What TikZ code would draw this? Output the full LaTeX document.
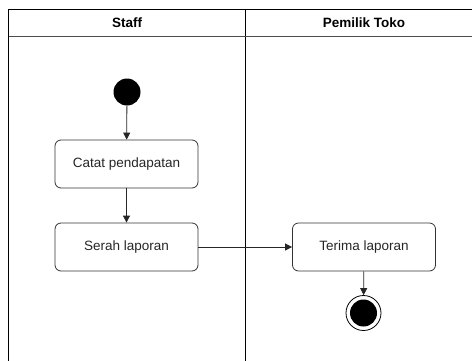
\documentclass[tikz,border=0pt]{standalone}
\usepackage{fontspec}
\setmainfont{Liberation Sans}
\usetikzlibrary{arrows.meta}
\begin{document}
\begin{tikzpicture}[x=1pt,y=-1pt,
  action/.style={draw=black!80,line width=0.8pt,rounded corners=6pt,minimum width=143pt,minimum height=48pt,inner sep=0pt,font=\fontsize{13.5}{16}\selectfont,text=black!85},
  lanetitle/.style={font=\bfseries\fontsize{13.5}{16}\selectfont},
  flow/.style={draw=black!85,line width=0.8pt,-{Triangle[length=7pt,width=7pt]}},
  lane/.style={draw=black,line width=1pt}]
\useasboundingbox (0,0) rectangle (472,360);
\begin{scope}
\clip (0,0) rectangle (472,360);
\draw[lane] (8.5,370) -- (8.5,9) -- (490,9);
\draw[lane] (245,9) -- (245,370);
\draw[draw=black!70,line width=1pt] (8.5,36) -- (490,36);
\end{scope}
\node[lanetitle] (t1) at (127,22.5) {Staff};
\node[lanetitle] (t2) at (364,22.5) {Pemilik Toko};
\node[circle,fill=black,minimum size=27pt,inner sep=0pt] (start) at (127,92) {};
\node[action] (catat) at (126.5,164) {Catat pendapatan};
\node[action] (serah) at (126.5,247) {Serah laporan};
\node[action] (terima) at (364,247) {Terima laporan};
\node[circle,draw=black,line width=0.8pt,fill=white,minimum size=35pt,inner sep=0pt] (end) at (363.5,313) {};
\node[circle,fill=black,minimum size=27pt,inner sep=0pt] (endin) at (end.center) {};
\draw[flow] (start) -- (catat);
\draw[flow] (catat) -- (serah);
\draw[flow] (serah) -- (terima);
\draw[flow] (terima) -- (end);
\end{tikzpicture}
\end{document}
